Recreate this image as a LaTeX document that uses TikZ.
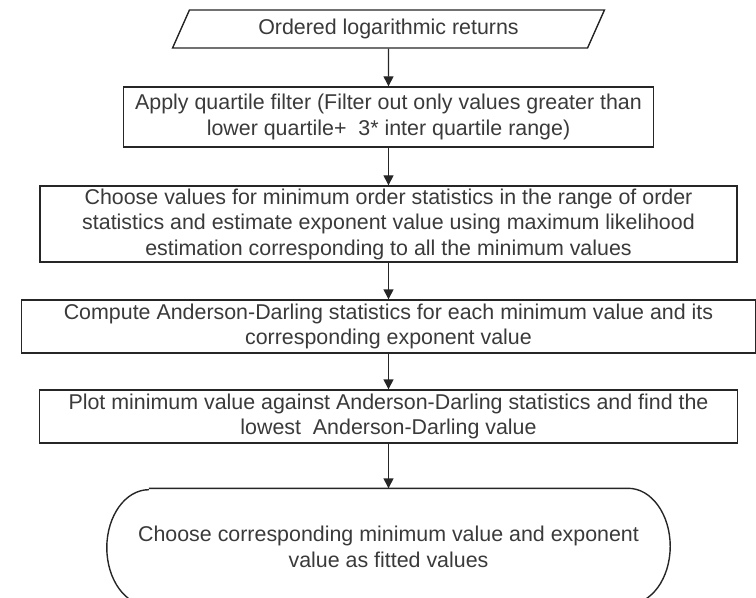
\documentclass[tikz,border=0pt]{standalone}
\usepackage{fontspec}
\setmainfont{Liberation Sans}
\usepackage{tikz}
\usetikzlibrary{arrows.meta,positioning,shapes.geometric}
\definecolor{ink}{HTML}{262626}
\definecolor{txt}{HTML}{3A3A3A}
\tikzset{
  box/.style={draw=ink,line width=1.4bp,fill=white,align=center,text=txt,inner sep=0pt,font=\fontsize{21.4bp}{25.5bp}\selectfont},
  databox/.style={box,trapezium,trapezium left angle=61,trapezium right angle=119,trapezium stretches=true},
  endbox/.style={box,draw=none,fill=none},
  arrow/.style={-{Triangle[length=10bp,width=10bp]},line width=1.4bp,color=ink},
}
\begin{document}
\begin{tikzpicture}[x=1bp,y=1bp]
  \useasboundingbox (0,0) rectangle (756,-598);
  \node[databox,minimum width=432bp,minimum height=38bp] (ret) at (388.5,-29) {Ordered logarithmic returns};
  \node[box,minimum width=530bp,minimum height=60bp] (filt) at (388.5,-117) {Apply quartile filter (Filter out only values greater than\\lower quartile+\ \ 3* inter quartile range)};
  \node[box,minimum width=697bp,minimum height=76bp] (est) at (388.5,-224) {Choose values for minimum order statistics in the range of order\\statistics and estimate exponent value using maximum likelihood\\estimation corresponding to all the minimum values};
  \node[box,minimum width=734bp,minimum height=53bp] (adst) at (388.5,-326.5) {Compute Anderson-Darling statistics for each minimum value and its\\corresponding exponent value};
  \node[box,minimum width=698bp,minimum height=53bp] (plot) at (388.5,-416.5) {Plot minimum value against Anderson-Darling statistics and find the\\lowest\ \ Anderson-Darling value};
  \node[endbox,minimum width=562bp,minimum height=116bp] (fit) at (388.5,-547) {Choose corresponding minimum value and exponent\\value as fitted values};
  % terminal outline with flat elliptic ends
  \draw[ink,line width=1.4bp] ([xshift=42bp]fit.north west) -- ([xshift=-42bp]fit.north east)
    arc[start angle=90,end angle=-90,x radius=42bp,y radius=58bp]
    -- ([xshift=42bp]fit.south west)
    arc[start angle=270,end angle=90,x radius=42bp,y radius=58bp];
  \draw[arrow] (ret.south) -- (filt.north);
  \draw[arrow] (filt) -- (est);
  \draw[arrow] (est) -- (adst);
  \draw[arrow] (adst) -- (plot);
  \draw[arrow] (plot) -- (fit.north);
\end{tikzpicture}
\end{document}
